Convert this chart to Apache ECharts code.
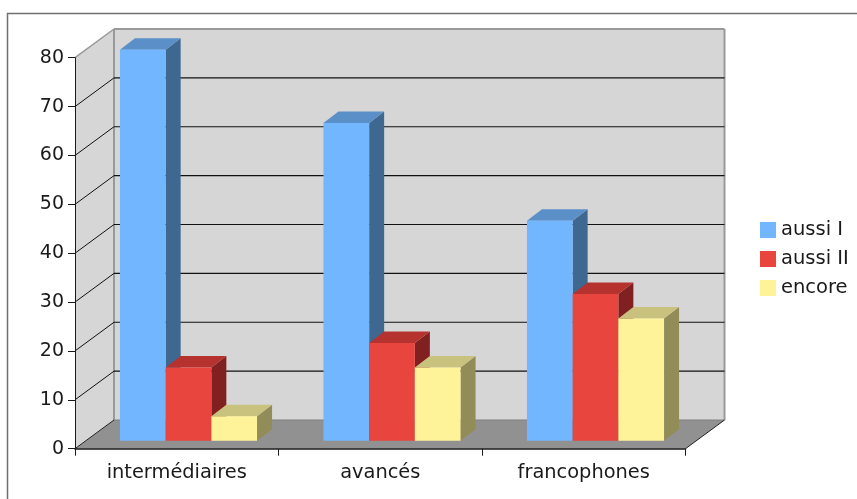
<!DOCTYPE html>
<html><head><meta charset="utf-8">
<style>html,body{margin:0;padding:0;background:#fff;overflow:hidden}#c{width:857px;height:499px}</style>
<script src="https://cdn.jsdelivr.net/npm/echarts@6/dist/echarts.min.js"></script>
</head><body><div id="c"></div>
<script>
const categories = ['intermédiaires', 'avancés', 'francophones'];
const yTicks = [0, 10, 20, 30, 40, 50, 60, 70, 80];
const aussiI = [80, 65, 45];
const aussiII = [15, 20, 30];
const encore = [5, 15, 25];

const DX = 39, DY = -28.7;         // depth of the box
const BDX = 15, BDY = -11.5;       // depth of a bar
const BASE_DY = -8;                // bars stand inside the floor
const GROUP_LEFT = -56.8, BAR_W = 45.7;

const chart = echarts.init(document.getElementById('c'), null, {renderer: 'canvas'});

function poly(points, fill) {
  return {type: 'polygon', shape: {points}, style: {fill}, silent: true};
}
function line(a, b, stroke, w) {
  return {type: 'line', shape: {x1: a[0], y1: a[1], x2: b[0], y2: b[1]}, style: {stroke, lineWidth: w}, silent: true};
}

function renderWalls(params, api) {
  const g = params.coordSys;
  const top = api.coord([0, 80])[1], bot = api.coord([0, 0])[1];
  const L = g.x, R = g.x + g.width;
  const WALL = '#d6d6d6', FLOOR = '#919191', EDGE = '#999999';
  return {type: 'group', children: [
    poly([[L + DX, top + DY], [R + DX, top + DY], [R + DX, bot + DY], [L + DX, bot + DY]], WALL),
    poly([[L, top], [L + DX, top + DY], [L + DX, bot + DY], [L, bot]], WALL),
    poly([[L, bot], [L + DX, bot + DY], [R + DX, bot + DY], [R, bot]], FLOOR),
    line([L, top], [L + DX, top + DY], EDGE, 1.5),
    line([L + DX, top + DY], [R + DX, top + DY], EDGE, 2),
    line([L + DX, top + DY], [L + DX, bot + DY], EDGE, 2),
    line([R + DX, top + DY], [R + DX, bot + DY], EDGE, 2),
    line([L + DX, bot + DY], [R + DX, bot + DY], '#808080', 1),
    line([L, bot], [L + DX, bot + DY], '#222222', 1),
    line([R, bot], [R + DX, bot + DY], '#222222', 1)
  ]};
}
function renderGrid(params, api) {
  const g = params.coordSys, v = api.value(1), y = api.coord([0, v])[1];
  const L = g.x, R = g.x + g.width;
  if (v === 0 || v === 80) return {type: 'group', children: []};
  return {type: 'group', children: [
    line([L, y], [L + DX, y + DY], '#111111', 1),
    line([L + DX, y + DY], [R + DX, y + DY], '#111111', 1.2)
  ]};
}
function barRenderer(slot, front, side, topc) {
  return function (params, api) {
    const p = api.coord([api.value(0), api.value(1)]);
    const z = api.coord([api.value(0), 0]);
    const x0 = p[0] + GROUP_LEFT + slot * BAR_W, x1 = x0 + BAR_W;
    const yT = p[1] + BASE_DY, yB = z[1] + BASE_DY;
    return {type: 'group', children: [
      poly([[x1, yT], [x1 + BDX, yT + BDY], [x1 + BDX, yB + BDY], [x1, yB]], side),
      poly([[x0, yT], [x0 + BDX, yT + BDY], [x1 + BDX, yT + BDY], [x1, yT]], topc),
      poly([[x0, yT], [x1, yT], [x1, yB], [x0, yB]], front)
    ]};
  };
}
function barSeries(name, values, slot, front, side, topc) {
  return {
    type: 'custom', name, clip: false, z: 5,
    renderItem: barRenderer(slot, front, side, topc),
    itemStyle: {color: front},
    encode: {x: 0, y: 1},
    animation: false,
    data: values.map((v, i) => [i, v])
  };
}
const FONT = 'DejaVu Sans';
chart.setOption({
  animation: false,
  backgroundColor: '#ffffff',
  grid: {left: 75, top: 57.7, width: 610.5, height: 391},
  xAxis: {
    type: 'category', data: categories, z: 10,
    axisLine: {lineStyle: {color: '#1a1a1a', width: 1.5}},
    axisTick: {show: true, alignWithLabel: false, length: 7, lineStyle: {color: '#1a1a1a', width: 1}},
    axisLabel: {color: '#1a1a1a', fontFamily: FONT, fontSize: 19.4, margin: 15, interval: 0},
    splitLine: {show: false}
  },
  yAxis: {
    type: 'value', min: 0, max: 80, interval: 10, z: 10,
    axisLine: {show: true, lineStyle: {color: '#1a1a1a', width: 1}},
    axisTick: {show: true, length: 7, lineStyle: {color: '#1a1a1a', width: 1}},
    axisLabel: {color: '#1a1a1a', fontFamily: FONT, fontSize: 19, margin: 11, padding: [3, 0, 0, 0]},
    splitLine: {show: false}
  },
  legend: {
    orient: 'vertical', left: 755, top: 215, itemWidth: 16, itemHeight: 16, itemGap: 9,
    icon: 'rect', selectedMode: false,
    data: ['aussi I', 'aussi II', 'encore'],
    textStyle: {color: '#1a1a1a', fontFamily: FONT, fontSize: 19.5, lineHeight: 16}
  },
  graphic: [{
    type: 'polyline', silent: true, z: 0,
    shape: {points: [[7.5, 510], [7.5, 13.5], [870, 13.5]]},
    style: {stroke: '#707070', lineWidth: 1.5, fill: null}
  }],
  series: [
    {type: 'custom', name: 'walls', clip: false, z: 1, renderItem: renderWalls, data: [[0, 0]], encode: {x: 0, y: 1}, silent: true},
    {type: 'custom', name: 'grid', clip: false, z: 2, renderItem: renderGrid, data: yTicks.map(t => [0, t]), encode: {x: 0, y: 1}, silent: true},
    barSeries('aussi I', aussiI, 0, '#72b6ff', '#3f6891', '#5b8fc8'),
    barSeries('aussi II', aussiII, 1, '#e8453f', '#802020', '#b5322f'),
    barSeries('encore', encore, 2, '#fff39a', '#918c58', '#c9c27e')
  ]
});
</script></body></html>
